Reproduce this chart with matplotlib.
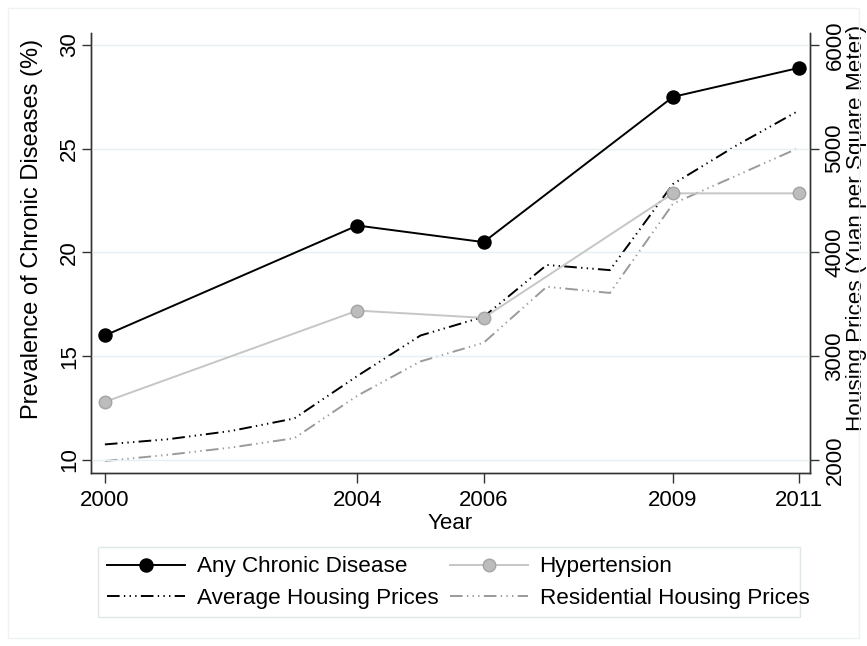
import matplotlib
matplotlib.use("Agg")
import matplotlib.pyplot as plt
from matplotlib.patches import Rectangle

plt.rcParams['font.family'] = ['Liberation Sans', 'DejaVu Sans']

# Prevalence (%) by survey wave
wave_years = [2000, 2004, 2006, 2009, 2011]
any_chronic = [16.0, 21.3, 20.5, 27.5, 28.9]
hypertension = [12.8, 17.2, 16.85, 22.85, 22.85]

# Housing prices (yuan per square meter) by year
price_years = [2000, 2001, 2002, 2003, 2004, 2005, 2006, 2007, 2008, 2009, 2010, 2011]
avg_prices = [2150, 2200, 2280, 2400, 2810, 3200, 3380, 3880, 3830, 4660, 5030, 5370]
res_prices = [1990, 2050, 2120, 2210, 2620, 2950, 3130, 3670, 3610, 4470, 4740, 5010]

x_ticks = [2000, 2004, 2006, 2009, 2011]
left_ticks = [10, 15, 20, 25, 30]
right_ticks = [2000, 3000, 4000, 5000, 6000]

W, H = 867, 646
AX_L, AX_R, AX_T, AX_B = 91, 810, 33, 473
fig = plt.figure(figsize=(W / 100, H / 100), dpi=100)
fig.patches.append(Rectangle((8 / W, 8 / H), 1 - 16 / W, 1 - 16 / H, transform=fig.transFigure,
                             fill=False, ec='#eef2f3', lw=1.0))

ax = fig.add_axes([AX_L / W, 1 - AX_B / H, (AX_R - AX_L) / W, (AX_B - AX_T) / H])
ax2 = ax.twinx()

FS_TICK = 16
FS_TITLE = 17
FS_LEG = 16.2
dash_pat = (6.5, 2.2, 0.7, 2.2, 0.7, 2.2, 0.7, 2.2)

l_avg, = ax2.plot(price_years, avg_prices, color='black', lw=1.4, dashes=dash_pat, zorder=3)
l_res, = ax2.plot(price_years, res_prices, color='#9a9a9a', lw=1.4, dashes=dash_pat, zorder=3)

ax.set_zorder(ax2.get_zorder() + 1)
ax.patch.set_visible(False)
l_any, = ax.plot(wave_years, any_chronic, color='black', lw=1.4, marker='o', ms=9.4,
                 mfc='black', mec='black', zorder=4)
l_hyp, = ax.plot(wave_years, hypertension, color='#c6c6c6', lw=1.4, marker='o', ms=9.0,
                 mfc='#bcbcbc', mec='#a4a4a4', mew=1.0, zorder=3)

ax.set_xlim(1999.78, 2011.17)
ax.set_ylim(9.373, 30.578)
ax2.set_ylim(1874.6, 6115.6)

for y in left_ticks:
    ax.axhline(y, color='#e6eff1', lw=1.0, zorder=0)

ax.set_xticks(x_ticks)
ax.set_xticklabels([str(v) for v in x_ticks], fontsize=FS_TICK)
ax.set_yticks(left_ticks)
ax.set_yticklabels([str(v) for v in left_ticks], fontsize=FS_TICK, rotation=90, va='center')
ax2.set_yticks(right_ticks)
ax2.set_yticklabels([str(v) for v in right_ticks], fontsize=FS_TICK, rotation=90, va='center')

for a in (ax, ax2):
    a.spines['top'].set_visible(False)
    for s in ('left', 'right', 'bottom'):
        a.spines[s].set_linewidth(1.0)
        a.spines[s].set_color('#333333')
ax.tick_params(axis='x', length=7.2, width=1.0, color='#333333', pad=5.3)
ax.tick_params(axis='y', length=6.5, width=1.0, color='#333333', pad=1.5)
ax2.tick_params(axis='y', length=6.5, width=1.0, color='#333333', pad=3.9)

ax.set_xlabel('Year', fontsize=FS_TICK, va='top')
ax.xaxis.set_label_coords(0.5, (AX_B - 513) / (AX_B - AX_T))
ax.set_ylabel('Prevalence of Chronic Diseases (%)', fontsize=FS_TITLE)
ax.yaxis.set_label_coords((43 - AX_L) / (AX_R - AX_L), (AX_B - 229) / (AX_B - AX_T))
ax2.set_ylabel('Housing Prices (Yuan per Square Meter)', fontsize=16.2,
               rotation=90, rotation_mode='anchor', va='top', ha='center')
ax2.yaxis.set_label_coords((845.6 - AX_L) / (AX_R - AX_L), (AX_B - 228) / (AX_B - AX_T))

# legend frame drawn separately (text overflows the box slightly, as in the reference)
fig.patches.append(Rectangle((98 / W, 1 - 617 / H), (800 - 98) / W, (617 - 547) / H,
                             transform=fig.transFigure, fill=False, ec='#dfe7ea', lw=1.0))
handles = [l_any, l_avg, l_hyp, l_res]
labels = ['Any Chronic Disease', 'Average Housing Prices', 'Hypertension', 'Residential Housing Prices']
leg = fig.legend(handles, labels, loc='center left', bbox_to_anchor=(98 / W, 1 - 582.5 / H),
                 ncol=2, fontsize=FS_LEG, frameon=False, handlelength=3.45,
                 handletextpad=0.53, columnspacing=0.52, labelspacing=0.45, borderpad=0.4,
                 borderaxespad=0)

fig.savefig('out.png', dpi=100)
